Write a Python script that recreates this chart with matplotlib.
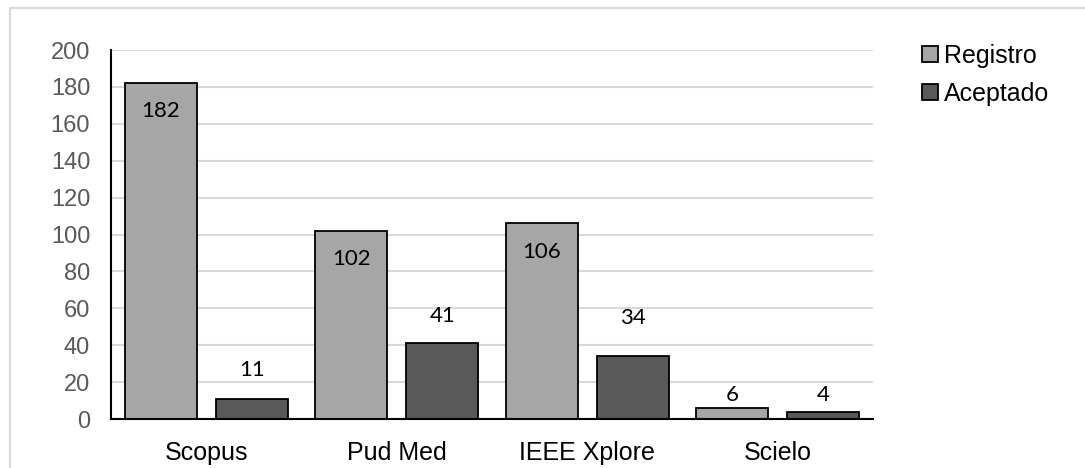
import matplotlib
matplotlib.use("Agg")
import matplotlib.pyplot as plt
import numpy as np
from matplotlib.patches import Rectangle

categories = ["Scopus", "Pud Med", "IEEE Xplore", "Scielo"]
registro = [182, 102, 106, 6]
aceptado = [11, 41, 34, 4]
yticks = [0, 20, 40, 60, 80, 100, 120, 140, 160, 180, 200]

# label offsets (data units) relative to bar value, as placed in the original
reg_label_off = [-15, -15.3, -15.5, 7]
ace_label_off = [15.6, 15, 20.6, 9]

fig = plt.figure(figsize=(10.85, 4.68), dpi=100)
fig.patches.append(Rectangle((10 / 1085, -0.1), 1.2, (460 - 0) / 468 + 0.1,
                             transform=fig.transFigure, fill=False,
                             edgecolor="#d9d9d9", linewidth=1.5))
ax = fig.add_axes([111 / 1085, (468 - 419) / 468, (873 - 111) / 1085, (419 - 50) / 468])

x = np.arange(len(categories))
w = 0.378
off = 0.24
b1 = ax.bar(x - off, registro, w, color="#a6a6a6", edgecolor="black", linewidth=1.3, label="Registro", zorder=3)
b2 = ax.bar(x + off, aceptado, w, color="#595959", edgecolor="black", linewidth=1.3, label="Aceptado", zorder=3)

for xi, v, o in zip(x - off, registro, reg_label_off):
    ax.text(xi, v + o, str(v), ha="center", va="center", fontsize=16, family="Lato", color="black", zorder=4)
for xi, v, o in zip(x + off, aceptado, ace_label_off):
    ax.text(xi, v + o, str(v), ha="center", va="center", fontsize=16, family="Lato", color="black", zorder=4)

ax.set_xlim(-0.5, len(categories) - 0.5)
ax.set_ylim(0, 200)
ax.set_yticks(yticks)
ax.set_yticklabels([str(t) for t in yticks], fontsize=17, family="Liberation Sans", color="#595959")
ax.set_xticks(x)
ax.set_xticklabels(categories, fontsize=18, family="Liberation Sans", color="black")
ax.tick_params(axis="both", length=0)
ax.tick_params(axis="y", pad=15)
ax.tick_params(axis="x", pad=16)
ax.grid(axis="y", color="#d9d9d9", linewidth=1.5, zorder=0)
ax.set_axisbelow(True)
for s in ["top", "right"]:
    ax.spines[s].set_visible(False)
ax.spines["left"].set_color("black")
ax.spines["left"].set_linewidth(1.5)
ax.spines["bottom"].set_color("black")
ax.spines["bottom"].set_linewidth(1.5)
ax.spines["left"].set_zorder(5)
ax.spines["bottom"].set_zorder(5)

leg = fig.legend(handles=[b1, b2], labels=["Registro", "Aceptado"],
                 loc="upper left", bbox_to_anchor=(922 / 1085, 1 - 44 / 468),
                 frameon=False, prop={"family": "Liberation Sans", "size": 18},
                 handlelength=0.62, handleheight=0.62, handletextpad=0.25,
                 labelspacing=0.55, borderaxespad=0, borderpad=0)

fig.savefig("out.png", dpi=100)
